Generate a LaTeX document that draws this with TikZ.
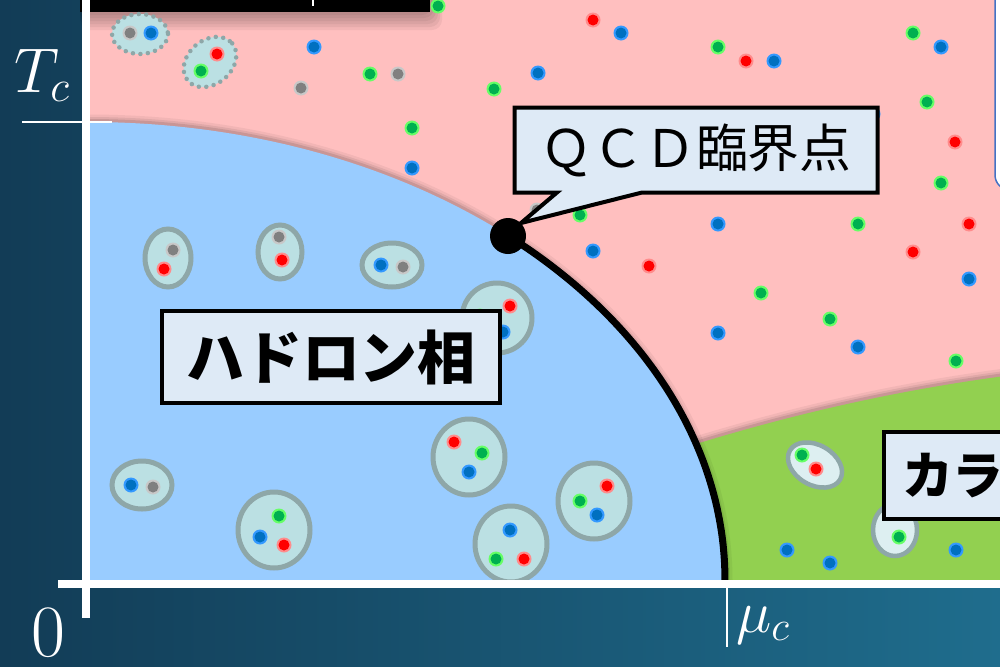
\RequirePackage{fix-cm}
\documentclass[tikz,border=0pt]{standalone}
\usepackage{fontspec}
\newfontfamily\jp{Noto Sans CJK JP}
\usetikzlibrary{shapes.callouts}

\definecolor{bgdark}{HTML}{123C56}
\definecolor{bglight}{HTML}{1F6D8D}
\definecolor{plasma}{HTML}{FFBFBF}
\definecolor{hadronic}{HTML}{99CCFF}
\definecolor{cscolor}{HTML}{92D050}
\definecolor{rim}{HTML}{8EA7A8}
\definecolor{bag}{HTML}{BBE0E3}
\definecolor{labelfill}{HTML}{DEEAF6}
\definecolor{framebd}{HTML}{4472C4}
\definecolor{qr}{HTML}{FF0000}\definecolor{qrglow}{HTML}{FF8C8C}
\definecolor{qg}{HTML}{00B050}\definecolor{qgglow}{HTML}{66FF66}
\definecolor{qb}{HTML}{0070C0}\definecolor{qbglow}{HTML}{3399FF}
\definecolor{qn}{HTML}{808080}\definecolor{qnglow}{HTML}{C8C8C8}

% one quark: colour, x, y
\newcommand{\qk}[3]{\fill[#1glow] (#2,#3) circle[radius=7.5]; \fill[#1] (#2,#3) circle[radius=5.5];}

\begin{document}
\begin{tikzpicture}[x=0.2mm, y=-0.2mm,
  hadron/.style={draw=rim, fill=bag, line width=1mm},
  loosebag/.style={draw=rim, fill=bag, line width=0.9mm, dash pattern=on 0pt off 1.5mm, line cap=round},
  phasebox/.style={draw=black, line width=0.8mm, fill=labelfill, inner sep=0pt},
  axisline/.style={white, line width=1.5mm}]
\useasboundingbox (0,0) rectangle (1000,666);
\clip (0,0) rectangle (1000,666);
% backdrop and plasma
\shade[left color=bgdark, right color=bglight] (0,0) rectangle (1000,666);
\fill[plasma] (90,0) rectangle (1000,580);
% bar along the top edge
\foreach \s in {1,...,6} \fill[black, opacity=0.05, rounded corners=2mm] (80,-20) rectangle (430+2*\s,12+3*\s);
\fill[black] (80,-20) rectangle (430,12);
\draw[white, line width=0.3mm] (313,0) -- (313,6);
% colour superconductor
\foreach \w/\o in {3/0.05, 2/0.07, 1.2/0.1} \draw[black, opacity=\o, line width=\w mm] (640,462) .. controls (780,415) and (900,390) .. (1005,376);
\fill[cscolor] (640,462) .. controls (780,415) and (900,390) .. (1005,376) -- (1005,580) -- (640,580) -- cycle;
% hadron phase
\foreach \w/\o in {3/0.05, 2/0.07, 1.2/0.1} \draw[black, opacity=\o, line width=\w mm] (88,122) .. controls (440,122) and (725,327) .. (725,580);
\fill[hadronic] (88,580) -- (88,122) .. controls (440,122) and (725,327) .. (725,580) -- cycle;
\draw[black, line width=1.4mm] plot[domain=41.2:90, samples=40, smooth] ({88+637*sin(\x)}, {580-458*cos(\x)});
\node[circle, fill=black, minimum size=7.2mm, inner sep=0pt] (crit) at (508,236) {};

% free quarks
\foreach \c/\x/\y in {qg/438/6, qb/314/47, qg/370/74, qn/398/74, qn/301/88, qb/538/73, qg/494/89,
  qr/593/20, qb/621/33, qg/718/47, qr/746/61, qb/774/61, qg/913/33, qb/941/47, qg/927/102,
  qg/412/128, qb/412/168, qr/955/142, qg/941/183, qb/873/114, qn/537/210, qg/580/215,
  qb/593/251, qr/649/266, qb/718/224, qg/858/224, qr/969/224, qr/913/252, qb/969/279,
  qg/761/293, qg/830/319, qb/718/333, qb/858/347, qg/956/361}
  {\qk{\c}{\x}{\y}}
\draw[loosebag] (140,34) ellipse[x radius=28, y radius=20];
\qk{qn}{130}{33} \qk{qb}{151}{33}
\draw[loosebag, rotate around={40:(210,62)}] (210,62) ellipse[x radius=29, y radius=22];
\qk{qr}{217}{54} \qk{qg}{201}{71}

% mesons and baryons
\draw[hadron] (168,258) ellipse[x radius=23, y radius=29];
\qk{qn}{173}{250} \qk{qr}{164}{269}
\draw[hadron] (280,252) ellipse[x radius=22, y radius=27];
\qk{qn}{279}{237} \qk{qr}{282}{260}
\draw[hadron] (392,265) ellipse[x radius=30, y radius=22];
\qk{qb}{381}{265} \qk{qn}{403}{267}
\draw[hadron] (497,318) circle[radius=35];
\qk{qr}{510}{306} \qk{qb}{503}{332} \qk{qg}{480}{316}
\draw[hadron] (142,485) ellipse[x radius=30, y radius=24];
\qk{qb}{131}{485} \qk{qn}{153}{487}
\draw[hadron] (274,530) ellipse[x radius=36, y radius=38];
\qk{qg}{279}{516} \qk{qb}{260}{537} \qk{qr}{284}{545}
\draw[hadron] (469,457) ellipse[x radius=36, y radius=38];
\qk{qr}{454}{442} \qk{qg}{482}{453} \qk{qb}{469}{472}
\draw[hadron] (511,544) ellipse[x radius=36, y radius=38];
\qk{qb}{510}{530} \qk{qg}{496}{559} \qk{qr}{524}{559}
\draw[hadron] (594,501) ellipse[x radius=36, y radius=38];
\qk{qr}{607}{486} \qk{qg}{580}{501} \qk{qb}{597}{515}

% diquarks
\draw[hadron, fill=bag!50!white, line width=0.9mm, rotate around={-30:(815,465)}] (815,465) ellipse[x radius=29, y radius=20];
\qk{qg}{802}{455} \qk{qr}{816}{469}
\draw[hadron, fill=bag!50!white, line width=0.9mm] (895,530) ellipse[x radius=22, y radius=26];
\qk{qg}{899}{537}
\foreach \x/\y in {787/550, 830/563, 956/550} {\qk{qb}{\x}{\y}}

% phase labels
\node[phasebox, rectangle callout, callout absolute pointer={(crit.north east)}, callout pointer width=17mm,
  minimum width=72.6mm, minimum height=17mm] (qcdbox) at (696,150)
  {\jp\fontsize{29.5}{32}\selectfont ＱＣＤ臨界点};
\node[phasebox, minimum width=67.4mm, minimum height=18.4mm] (hadbox) at (331,357)
  {\jp\bfseries\fontsize{33}{36}\selectfont ハドロン相};
\node[phasebox, anchor=north west, minimum height=17.4mm, text width=50mm, inner xsep=3.6mm, align=left] (colbox) at (882,430)
  {\jp\bfseries\fontsize{29}{32}\selectfont カラ};
\draw[framebd, fill=white, line width=0.3mm, rounded corners=3mm] (995,-20) rectangle (1040,190);

% axes
\draw[axisline] (86,0) -- (86,618);
\draw[axisline] (58,584) -- (1000,584);
\draw[white, line width=0.4mm] (22,122) -- (112,122);
\draw[white, line width=0.4mm] (727,584) -- (727,647);
\node[white, anchor=base] (tlabel) at (42,92) {\fontsize{36}{40}\selectfont $T_c$};
\node[white, anchor=base] (zero) at (48,656) {\fontsize{42}{46}\selectfont $0$};
\node[white, anchor=base west] (mulabel) at (730,632) {\fontsize{34}{38}\selectfont $\mu_c$};
\end{tikzpicture}
\end{document}
